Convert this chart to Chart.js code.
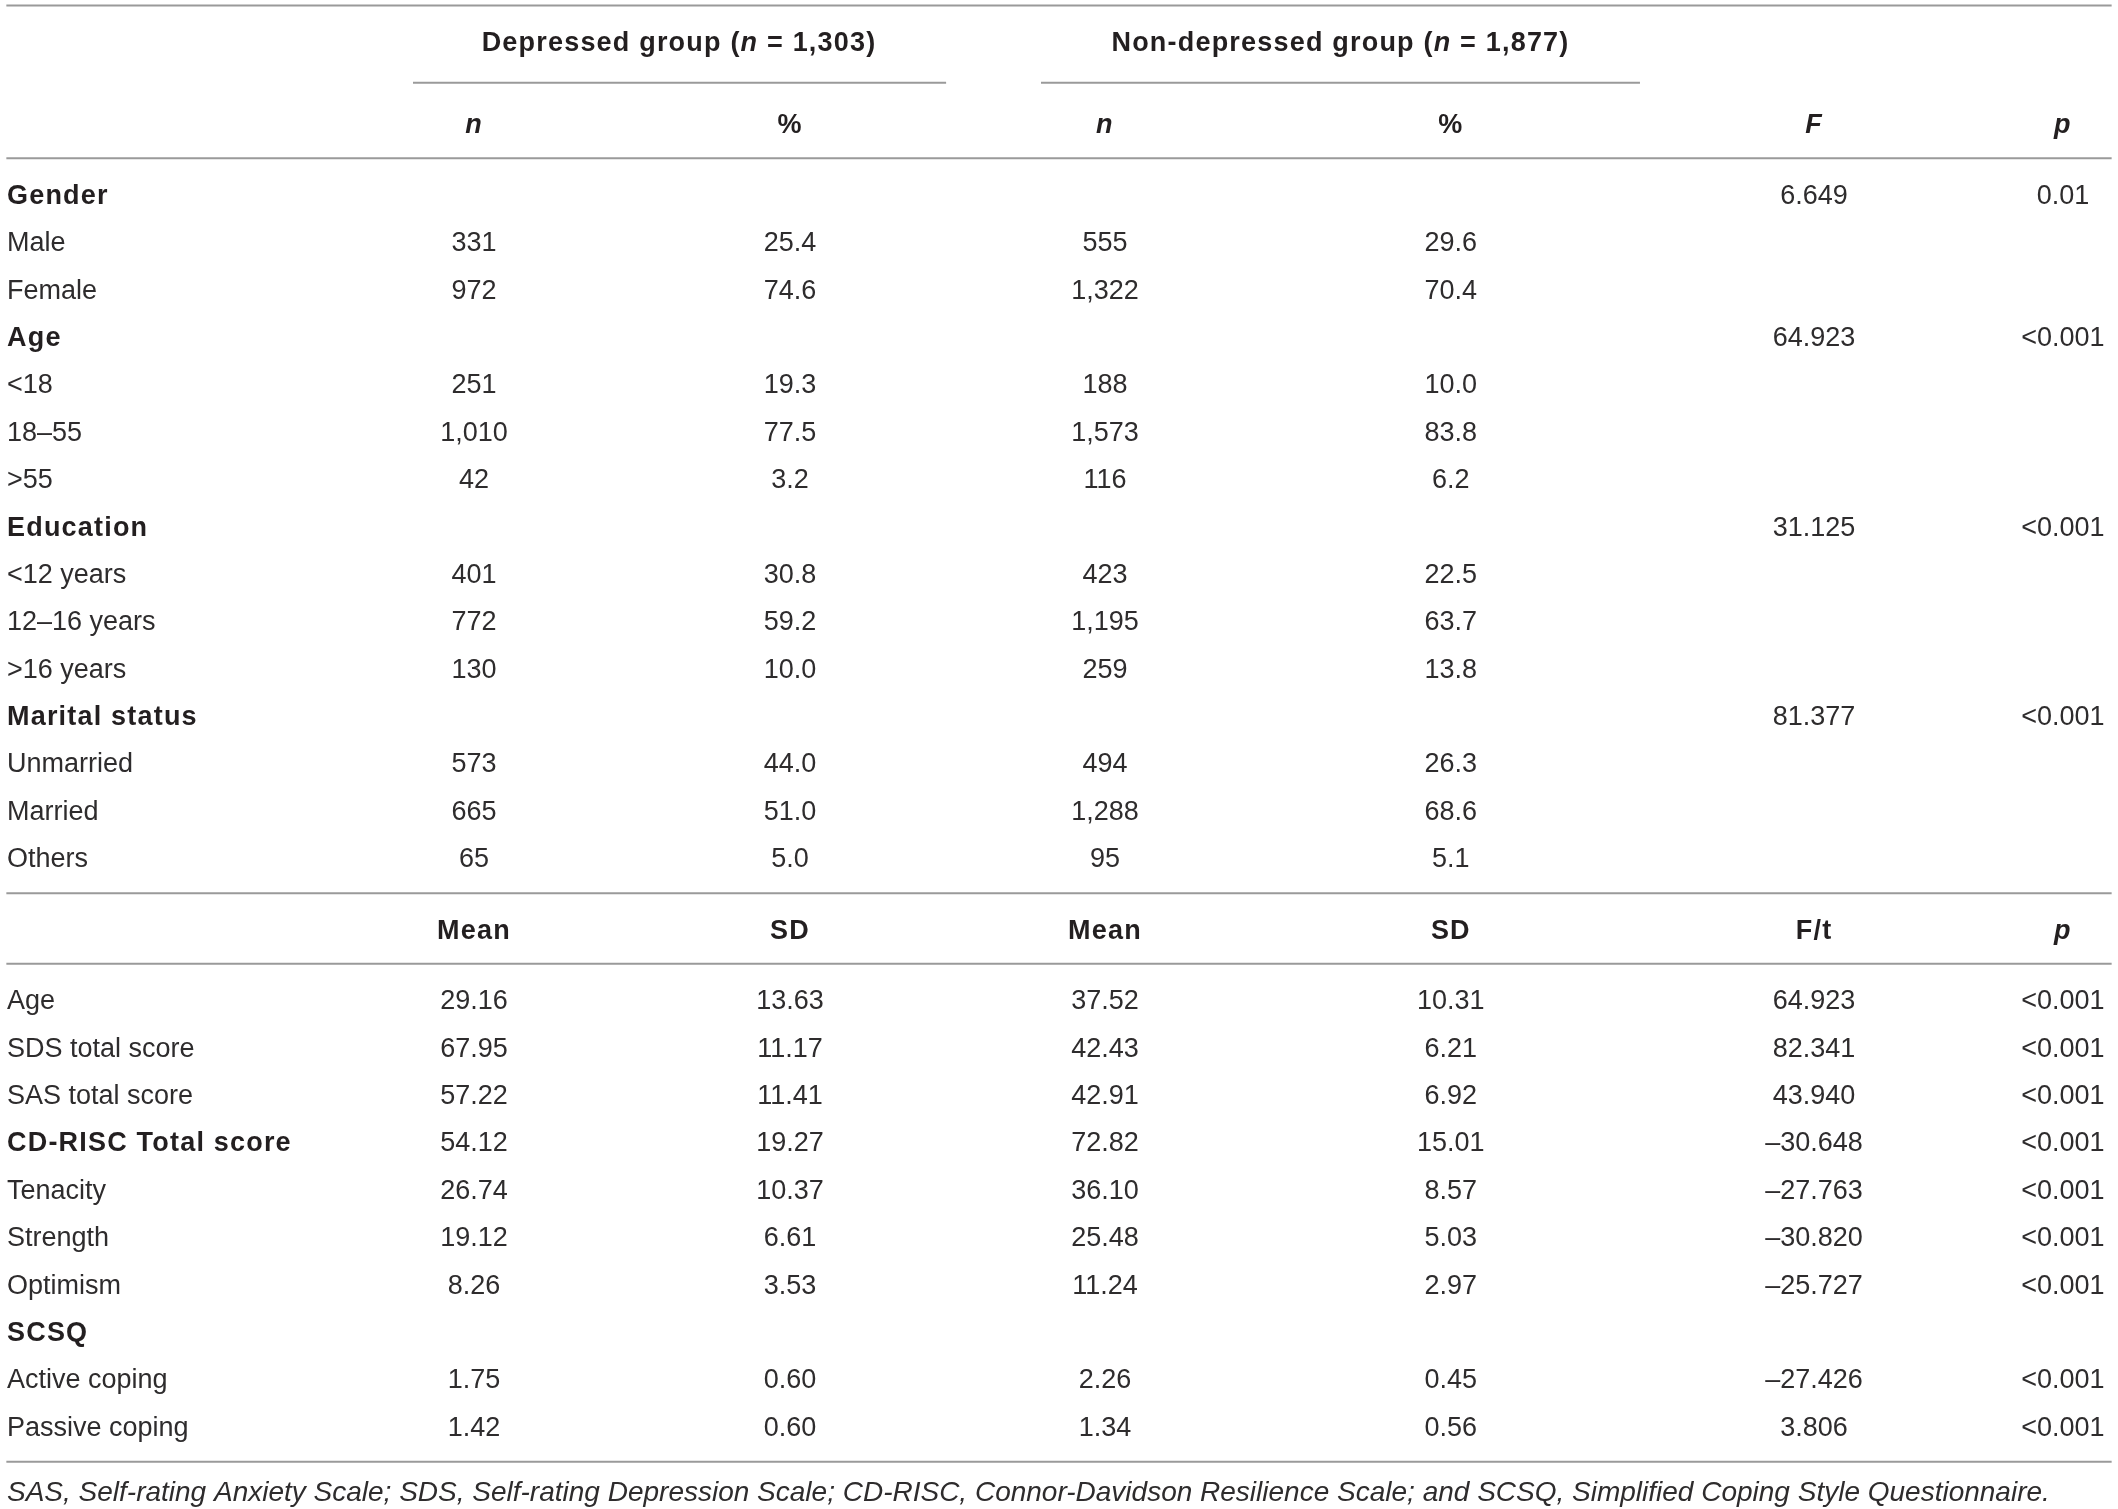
<!DOCTYPE html>
<html>
<head>
<meta charset="utf-8">
<title>Depressed vs non-depressed groups</title>
<script src="https://cdn.jsdelivr.net/npm/chart.js@4.4.1/dist/chart.umd.min.js"></script>
<style>
  html, body { margin: 0; padding: 0; background: #fff; }
  #wrap { width: 2118px; height: 1509px; }
</style>
</head>
<body>
<div id="wrap"><canvas id="tbl" width="2118" height="1509"></canvas></div>
<script>
/* ---- table data ------------------------------------------------- */
const catLabels   = ["Gender", "Male", "Female", "Age", "<18", "18–55", ">55",
                     "Education", "<12 years", "12–16 years", ">16 years",
                     "Marital status", "Unmarried", "Married", "Others"];
const catHeadings = ["Gender", "Age", "Education", "Marital status"];
const depN        = [null, 331, 972, null, 251, 1010, 42, null, 401, 772, 130, null, 573, 665, 65];
const depPct      = [null, 25.4, 74.6, null, 19.3, 77.5, 3.2, null, 30.8, 59.2, 10.0, null, 44.0, 51.0, 5.0];
const nonN        = [null, 555, 1322, null, 188, 1573, 116, null, 423, 1195, 259, null, 494, 1288, 95];
const nonPct      = [null, 29.6, 70.4, null, 10.0, 83.8, 6.2, null, 22.5, 63.7, 13.8, null, 26.3, 68.6, 5.1];
const catF        = [6.649, null, null, 64.923, null, null, null, 31.125, null, null, null, 81.377, null, null, null];
const catP        = ["0.01", null, null, "<0.001", null, null, null, "<0.001", null, null, null, "<0.001", null, null, null];

const scoreLabels   = ["Age", "SDS total score", "SAS total score", "CD-RISC Total score",
                       "Tenacity", "Strength", "Optimism", "SCSQ", "Active coping", "Passive coping"];
const scoreHeadings = ["CD-RISC Total score", "SCSQ"];
const depMean = [29.16, 67.95, 57.22, 54.12, 26.74, 19.12, 8.26, null, 1.75, 1.42];
const depSD   = [13.63, 11.17, 11.41, 19.27, 10.37, 6.61, 3.53, null, 0.60, 0.60];
const nonMean = [37.52, 42.43, 42.91, 72.82, 36.10, 25.48, 11.24, null, 2.26, 1.34];
const nonSD   = [10.31, 6.21, 6.92, 15.01, 8.57, 5.03, 2.97, null, 0.45, 0.56];
const scoreFt = [64.923, 82.341, 43.940, -30.648, -27.763, -30.820, -25.727, null, -27.426, 3.806];
const scoreP  = ["<0.001", "<0.001", "<0.001", "<0.001", "<0.001", "<0.001", "<0.001", null, "<0.001", "<0.001"];

const groupTitles = [["Depressed group (", "n", " = 1,303)"], ["Non-depressed group (", "n", " = 1,877)"]];
const footnote = "SAS, Self-rating Anxiety Scale; SDS, Self-rating Depression Scale; CD-RISC, Connor-Davidson Resilience Scale; and SCSQ, Simplified Coping Style Questionnaire.";

/* ---- layout (x in % of width, y in row units) -------------------- */
const FAMILY = '"Liberation Sans", Arial, sans-serif';
const SIZE = 27;
const FOOT_SIZE = 28;
const INK = "#231f20";
const INK_LIGHT = "#2e2c2d";
const RULE = "#9a9a9a";
const X = { label: 0.33, n1: 22.38, p1: 37.3, n2: 52.17, p2: 68.5, F: 85.65, P: 97.4 };
const GROUP_X = [32.06, 63.29];
const SECTION2 = 17;            /* first row of the mean/SD block */
const Y_TITLE = -3.23, Y_SUB = -1.49, Y_SUB2 = 15.51, Y_FOOT = 27.37;
const NUDGE = 3;                /* px: optical centring of the glyphs */

/* ---- formatting -------------------------------------------------- */
const fmtInt = (v) => v.toLocaleString("en-US");
const fmt1 = (v) => v.toFixed(1);
const fmt2 = (v) => v.toFixed(2);
const fmt3 = (v) => (v < 0 ? "\u2013" : "") + Math.abs(v).toFixed(3);
const same = (v) => v;

function cells(values, x, y0, fmt, style) {
  const out = [];
  values.forEach((v, i) => {
    if (v === null) return;
    out.push({ x: x, y: y0 + i, runs: [{ t: fmt(v), s: style ? style(v) : "" }] });
  });
  return out;
}

function textSet(data, align) {
  return { type: "scatter", data: data, pointRadius: 0, hoverRadius: 0, cellAlign: align || "center" };
}

function rule(y, x0, x1) {
  return {
    type: "line", data: [{ x: x0, y: y }, { x: x1, y: y }],
    borderColor: RULE, borderWidth: 2, pointRadius: 0, fill: false,
  };
}

const catStyle = (v) => (catHeadings.includes(v) ? "bold" : "");
const scoreStyle = (v) => (scoreHeadings.includes(v) ? "bold" : "");

const datasets = [
  /* rules */
  rule(-3.97, 0.3, 99.7),
  rule(-2.34, 19.5, 44.67),
  rule(-2.34, 49.15, 77.43),
  rule(-0.743, 0.3, 99.7),
  rule(14.77, 0.3, 99.7),
  rule(16.26, 0.3, 99.7),
  rule(26.77, 0.3, 99.7),

  /* header rows */
  textSet(groupTitles.map((g, i) => ({
    x: GROUP_X[i], y: Y_TITLE,
    runs: [{ t: g[0], s: "bold" }, { t: g[1], s: "italic bold" }, { t: g[2], s: "bold" }],
  }))),
  textSet([
    { x: X.n1, y: Y_SUB, runs: [{ t: "n", s: "italic bold" }] },
    { x: X.p1, y: Y_SUB, runs: [{ t: "%", s: "bold" }] },
    { x: X.n2, y: Y_SUB, runs: [{ t: "n", s: "italic bold" }] },
    { x: X.p2, y: Y_SUB, runs: [{ t: "%", s: "bold" }] },
    { x: X.F,  y: Y_SUB, runs: [{ t: "F", s: "italic bold" }] },
    { x: X.P,  y: Y_SUB, runs: [{ t: "p", s: "italic bold" }] },
    { x: X.n1, y: Y_SUB2, runs: [{ t: "Mean", s: "bold" }] },
    { x: X.p1, y: Y_SUB2, runs: [{ t: "SD", s: "bold" }] },
    { x: X.n2, y: Y_SUB2, runs: [{ t: "Mean", s: "bold" }] },
    { x: X.p2, y: Y_SUB2, runs: [{ t: "SD", s: "bold" }] },
    { x: X.F,  y: Y_SUB2, runs: [{ t: "F/t", s: "bold" }] },
    { x: X.P,  y: Y_SUB2, runs: [{ t: "p", s: "italic bold" }] },
  ]),

  /* categorical block */
  textSet(cells(catLabels, X.label, 0, same, catStyle), "left"),
  textSet(cells(depN, X.n1, 0, fmtInt)),
  textSet(cells(depPct, X.p1, 0, fmt1)),
  textSet(cells(nonN, X.n2, 0, fmtInt)),
  textSet(cells(nonPct, X.p2, 0, fmt1)),
  textSet(cells(catF, X.F, 0, fmt3)),
  textSet(cells(catP, X.P, 0, same)),

  /* mean / SD block */
  textSet(cells(scoreLabels, X.label, SECTION2, same, scoreStyle), "left"),
  textSet(cells(depMean, X.n1, SECTION2, fmt2)),
  textSet(cells(depSD, X.p1, SECTION2, fmt2)),
  textSet(cells(nonMean, X.n2, SECTION2, fmt2)),
  textSet(cells(nonSD, X.p2, SECTION2, fmt2)),
  textSet(cells(scoreFt, X.F, SECTION2, fmt3)),
  textSet(cells(scoreP, X.P, SECTION2, same)),

  /* footnote */
  textSet([{ x: X.label, y: Y_FOOT, runs: [{ t: footnote, s: "italic", foot: true }] }], "left"),
];

/* ---- plugin: write each cell's text at its point ----------------- */
function setFont(ctx, r) {
  const bold = r.s.indexOf("bold") >= 0;
  ctx.font = `${r.s} ${r.foot ? FOOT_SIZE : SIZE}px ${FAMILY}`;
  ctx.letterSpacing = bold ? "1.2px" : "0px";   /* the original bold face runs wider */
  ctx.fillStyle = bold ? INK : INK_LIGHT;
}

const tableText = {
  id: "tableText",
  afterDatasetsDraw(chart) {
    const ctx = chart.ctx;
    ctx.save();
    ctx.textBaseline = "middle";
    ctx.textAlign = "left";
    chart.data.datasets.forEach((ds, di) => {
      if (!ds.cellAlign) return;
      const meta = chart.getDatasetMeta(di);
      meta.data.forEach((el, i) => {
        const runs = ds.data[i].runs;
        const widths = runs.map((r) => {
          setFont(ctx, r);
          return ctx.measureText(r.t).width;
        });
        const total = widths.reduce((a, b) => a + b, 0);
        let x = ds.cellAlign === "left" ? el.x : el.x - total / 2;
        runs.forEach((r, k) => {
          setFont(ctx, r);
          ctx.fillText(r.t, x, el.y + NUDGE);
          x += widths[k];
        });
      });
    });
    ctx.restore();
  },
};

new Chart(document.getElementById("tbl"), {
  type: "scatter",
  data: { datasets: datasets },
  options: {
    responsive: false,
    devicePixelRatio: 1,
    animation: false,
    layout: { padding: 0 },
    plugins: { legend: { display: false }, tooltip: { enabled: false } },
    scales: {
      x: { type: "linear", display: false, min: 0, max: 100 },
      y: { type: "linear", display: false, min: -4.086, max: 27.77, reverse: true },
    },
  },
  plugins: [tableText],
});
</script>
</body>
</html>
